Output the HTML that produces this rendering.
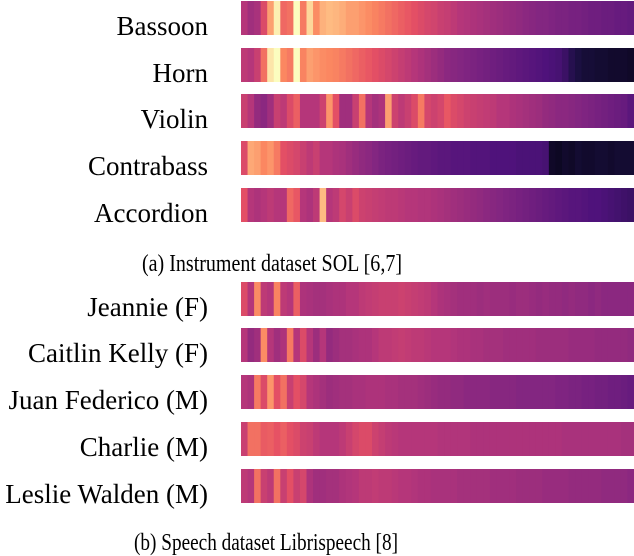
<!DOCTYPE html>
<html><head><meta charset="utf-8">
<style>
html,body{margin:0;padding:0;background:#fff;}
svg{display:block;}
text{font-family:"Liberation Serif",serif;fill:#000;}
</style></head>
<body>
<svg id="chart" width="634" height="556" viewBox="0 0 634 556" xmlns="http://www.w3.org/2000/svg"></svg>
<script>
const instrumentLabels = ["Bassoon","Horn","Violin","Contrabass","Accordion"];
const speakerLabels = ["Jeannie (F)","Caitlin Kelly (F)","Juan Federico (M)","Charlie (M)","Leslie Walden (M)"];
const captionA = "(a) Instrument dataset SOL [6,7]";
const captionB = "(b) Speech dataset Librispeech [8]";

const bassoon = [0.5,0.45,0.47,0.6,0.8,0.97,0.68,0.7,1.0,0.72,0.92,0.76,0.84,0.86,0.85,0.83,0.8,0.8,0.78,0.76,0.74,0.72,0.7,0.68,0.66,0.64,0.62,0.6,0.58,0.57,0.55,0.54,0.52,0.5,0.49,0.48,0.47,0.46,0.45,0.44,0.43,0.42,0.41,0.4,0.39,0.38,0.38,0.37,0.36,0.36,0.35,0.35,0.34,0.33,0.33,0.32,0.32,0.31,0.31,0.3];
const horn = [0.52,0.5,0.55,0.7,0.95,1.0,0.75,0.72,1.0,0.74,0.8,0.78,0.76,0.75,0.74,0.72,0.7,0.68,0.66,0.64,0.62,0.6,0.58,0.56,0.54,0.52,0.5,0.48,0.46,0.44,0.42,0.4,0.39,0.38,0.37,0.36,0.35,0.34,0.33,0.32,0.31,0.3,0.29,0.28,0.27,0.26,0.25,0.24,0.23,0.2,0.15,0.12,0.1,0.1,0.09,0.09,0.08,0.08,0.08,0.07];
const violin = [0.55,0.5,0.42,0.4,0.45,0.55,0.52,0.6,0.66,0.5,0.5,0.5,0.56,0.78,0.62,0.45,0.45,0.55,0.7,0.5,0.46,0.48,0.8,0.56,0.52,0.55,0.6,0.72,0.58,0.56,0.58,0.64,0.6,0.58,0.56,0.55,0.54,0.53,0.52,0.5,0.5,0.48,0.47,0.46,0.45,0.44,0.42,0.41,0.4,0.4,0.39,0.38,0.37,0.36,0.35,0.34,0.33,0.32,0.31,0.28];
const contrabass = [0.6,0.82,0.8,0.75,0.78,0.72,0.62,0.6,0.58,0.55,0.52,0.55,0.5,0.5,0.48,0.47,0.45,0.43,0.41,0.4,0.38,0.36,0.35,0.34,0.33,0.32,0.31,0.3,0.3,0.29,0.28,0.28,0.27,0.27,0.27,0.26,0.26,0.26,0.25,0.25,0.25,0.25,0.24,0.24,0.24,0.24,0.23,0.07,0.06,0.08,0.07,0.09,0.08,0.08,0.09,0.09,0.08,0.09,0.09,0.09];
const accordion = [0.62,0.5,0.48,0.5,0.52,0.5,0.5,0.68,0.64,0.5,0.48,0.52,0.86,0.5,0.52,0.58,0.55,0.6,0.56,0.55,0.54,0.53,0.52,0.52,0.51,0.5,0.5,0.49,0.49,0.48,0.47,0.46,0.45,0.44,0.43,0.42,0.41,0.4,0.39,0.38,0.37,0.36,0.35,0.34,0.33,0.32,0.31,0.3,0.29,0.28,0.27,0.27,0.26,0.25,0.25,0.24,0.23,0.22,0.21,0.2];
const jeannie = [0.6,0.5,0.76,0.52,0.5,0.74,0.52,0.5,0.66,0.48,0.47,0.46,0.46,0.47,0.48,0.48,0.5,0.5,0.52,0.53,0.54,0.55,0.55,0.55,0.56,0.55,0.54,0.53,0.52,0.5,0.48,0.47,0.46,0.45,0.45,0.45,0.44,0.45,0.44,0.44,0.44,0.43,0.44,0.44,0.43,0.42,0.43,0.42,0.42,0.41,0.42,0.41,0.41,0.4,0.41,0.4,0.4,0.4,0.4,0.4];
const caitlin = [0.5,0.42,0.45,0.76,0.5,0.45,0.48,0.72,0.5,0.6,0.5,0.44,0.5,0.42,0.44,0.46,0.46,0.47,0.48,0.48,0.5,0.52,0.52,0.53,0.54,0.53,0.52,0.52,0.51,0.5,0.5,0.5,0.49,0.48,0.48,0.47,0.47,0.46,0.46,0.46,0.45,0.45,0.45,0.45,0.45,0.44,0.44,0.44,0.44,0.44,0.43,0.43,0.43,0.43,0.42,0.42,0.42,0.42,0.42,0.41];
const juan = [0.5,0.48,0.72,0.6,0.78,0.62,0.7,0.55,0.62,0.58,0.5,0.48,0.46,0.44,0.45,0.46,0.46,0.47,0.47,0.48,0.48,0.48,0.47,0.47,0.46,0.46,0.46,0.45,0.44,0.43,0.42,0.42,0.41,0.41,0.4,0.4,0.4,0.4,0.39,0.39,0.39,0.39,0.38,0.38,0.38,0.38,0.38,0.38,0.37,0.37,0.36,0.36,0.35,0.35,0.34,0.34,0.33,0.33,0.32,0.31];
const charlie = [0.55,0.7,0.7,0.65,0.66,0.63,0.66,0.62,0.6,0.56,0.55,0.52,0.5,0.5,0.5,0.52,0.55,0.58,0.6,0.6,0.56,0.54,0.52,0.51,0.5,0.5,0.5,0.5,0.5,0.5,0.49,0.49,0.49,0.49,0.49,0.48,0.48,0.48,0.48,0.48,0.48,0.48,0.48,0.48,0.48,0.48,0.48,0.48,0.48,0.47,0.47,0.47,0.47,0.47,0.47,0.47,0.47,0.47,0.46,0.46];
const leslie = [0.52,0.5,0.7,0.55,0.52,0.7,0.55,0.62,0.55,0.58,0.48,0.45,0.45,0.46,0.46,0.48,0.49,0.5,0.52,0.52,0.53,0.52,0.52,0.51,0.5,0.5,0.49,0.48,0.48,0.47,0.47,0.47,0.47,0.46,0.46,0.46,0.46,0.46,0.45,0.45,0.45,0.45,0.44,0.44,0.44,0.44,0.43,0.43,0.43,0.43,0.42,0.42,0.42,0.42,0.42,0.41,0.41,0.41,0.41,0.4];

const instrumentSeries = [bassoon,horn,violin,contrabass,accordion];
const speakerSeries = [jeannie,caitlin,juan,charlie,leslie];

const magma = [[0,0,4],[28,16,68],[79,18,123],[129,37,129],[181,54,122],[229,80,100],[251,135,97],[254,194,135],[252,253,191]];
function colorOf(v){
  v=Math.max(0,Math.min(1,v));
  const p=v*(magma.length-1), i=Math.min(magma.length-2,Math.floor(p)), f=p-i;
  const a=magma[i],b=magma[i+1];
  return `rgb(${a.map((c,k)=>Math.round(c+(b[k]-c)*f)).join(',')})`;
}
const NS="http://www.w3.org/2000/svg";
const svg=document.getElementById('chart');
const x0=241, x1=634;
function xScale(i,n){return x0+(x1-x0)*i/n;}
function drawRow(values,label,y,h){
  const g=document.createElementNS(NS,'g');
  
  
  const n=values.length;
  values.forEach((v,i)=>{
    const r=document.createElementNS(NS,'rect');
    
    
    const xa=xScale(i,n), xb=xScale(i+1,n);
    r.setAttribute('x',xa);r.setAttribute('y',y);
    r.setAttribute('width',xb-xa+0.5);r.setAttribute('height',h);
    r.setAttribute('fill',colorOf(v));
    g.appendChild(r);
  });
  svg.appendChild(g);
  const t=document.createElementNS(NS,'text');
  
  
  t.setAttribute('x',208);t.setAttribute('y',y+h/2+17);
  t.setAttribute('text-anchor','end');t.setAttribute('font-size','27');
  t.textContent=label;
  svg.appendChild(t);
}
const topY=[1,48,94,141,188], botY=[282,328,375,422,469];
instrumentSeries.forEach((s,i)=>drawRow(s,instrumentLabels[i],topY[i],34));
speakerSeries.forEach((s,i)=>drawRow(s,speakerLabels[i],botY[i],34));
function caption(txt,x,y,w,name){
  const t=document.createElementNS(NS,'text');
  
  
  t.setAttribute('x',x);t.setAttribute('y',y);
  t.setAttribute('font-size','24');
  t.setAttribute('textLength',w);
  t.setAttribute('lengthAdjust','spacingAndGlyphs');
  t.textContent=txt;svg.appendChild(t);
}
caption(captionA,142,271,260,'caption-a');
caption(captionB,134,550,264,'caption-b');
</script>
</body></html>
